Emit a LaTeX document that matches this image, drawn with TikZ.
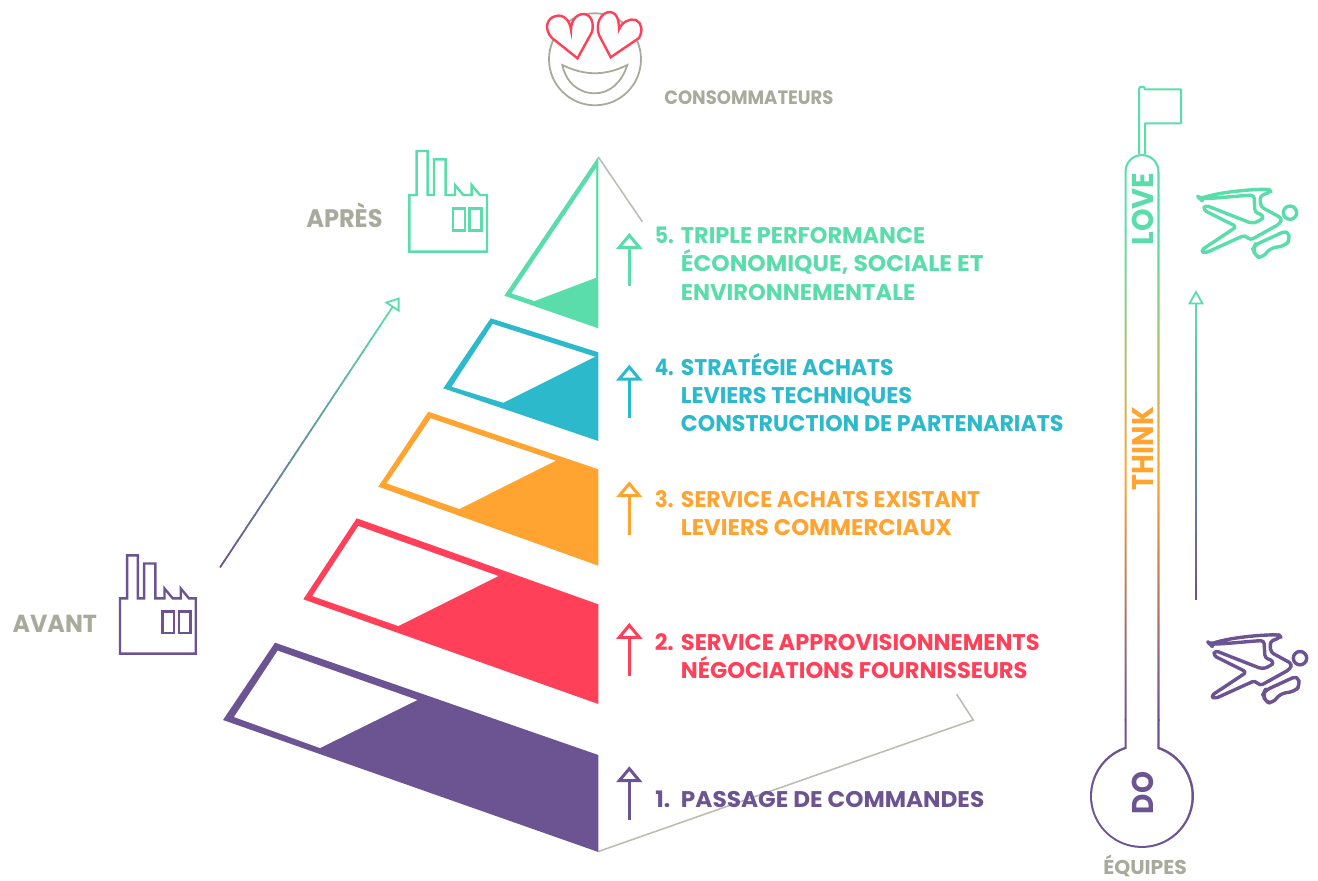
\documentclass[tikz,border=0pt]{standalone}
\usepackage{fontspec}
\usepackage{graphicx}
\usetikzlibrary{calc}
\newfontfamily\lab{Poppins}
\definecolor{pu}{HTML}{6C5392}
\definecolor{re}{HTML}{FF4058}
\definecolor{or}{HTML}{FFA431}
\definecolor{te}{HTML}{2CB9CB}
\definecolor{gr}{HTML}{5ADDAA}
\definecolor{gy}{HTML}{A8AA9C}
\definecolor{gl}{HTML}{BDBDB5}
\newlength\pxu \setlength\pxu{0.75pt}
\newcommand\fitl[2]{\resizebox{#1\pxu}{\height}{#2}}
\newcommand\layer[9]{%
 \fill[#1] #2 -- #3 -- #4 -- #5 -- cycle;
 \fill[white] #6 -- #7 -- #8 -- #9 -- cycle;}
\newcommand\uparr[3]{% x, apex y, colour; shaft 54 below the apex
 \draw[#3,line width=3.4\pxu] (#1,#2+15) -- (#1,#2+54);
 \draw[#3,line width=3\pxu,fill=white,line join=miter] (#1,#2+3) -- (#1+10,#2+15) -- (#1-10,#2+15) -- cycle;}
\newcommand\factory[4]{% x,y,scale,colour
 \begin{scope}[shift={(#1,#2)},scale=#3/3,draw=#4,line width=2.4\pxu,line join=miter]
 \draw (0,0) -- (22,0) -- (22,-132) -- (55,-132) -- (55,0) -- (74,0) -- (74,-107) -- (109,-107) -- (109,0) -- (137,0) -- (137,-30) -- (162,0) -- (187,0) -- (187,-30) -- (212,0) -- (233,0) -- (233,170) -- (0,170) -- cycle;
 \draw (131,40) rectangle (167,107);
 \draw (181,40) rectangle (217,107);
 \end{scope}}
\newcommand\runner[3]{% x,y,colour
 \begin{scope}[shift={(#1,#2)},scale=1/3,draw=#3,line width=3.4\pxu,line join=round]
 \draw[rounded corners=2.5pt] (390,386) .. controls (450,366) and (540,358) .. (597,358) -- (603,365) -- (570,378) -- (572,410) -- (636,445) -- (630,461) -- (540,511) -- (525,495) -- (404,550) -- (393,541) -- (500,470) -- (400,420) -- (405,405) -- (545,460) .. controls (565,455) and (578,445) .. (580,435) -- (555,428) -- (552,375) .. controls (500,378) and (440,385) .. cycle;
 \draw[rounded corners=4pt] (555,525) -- (653,480) -- (660,510) -- (645,527) -- (600,535) -- (578,563) -- (555,560) -- (550,535) -- cycle;
 \draw (660,428) circle[radius=15pt];
 \end{scope}}
\begin{document}
\begin{tikzpicture}[x=0.75pt,y=-0.75pt,
 lbl/.style={inner sep=0pt,anchor=base west,font=\lab\bfseries\fontsize{17}{20}\selectfont},
 cap/.style={inner sep=0pt,anchor=base west,text=gy,font=\lab\bfseries\fontsize{#1}{20}\selectfont},
 vert/.style={inner sep=0pt,anchor=base,rotate=90,font=\lab\bfseries\fontsize{22.5}{24}\selectfont},
 greyline/.style={draw=gl,line width=1.6\pxu}]
\useasboundingbox (0,0) rectangle (1318,881);
% grey connectors
\coordinate (gA) at (598.3,157); \coordinate (gB) at (642.3,221.7);
\coordinate (gC) at (598.3,851.5); \coordinate (gD) at (973.3,720); \coordinate (gE) at (956.7,694.3);
\draw[greyline] (gA) -- (gB);
\draw[greyline] (gC) -- (gD) -- (gE);
% pyramid
\layer{pu}{(275,642.7)}{(223,720)}{(598.3,852)}{(598.3,755)}{(277.7,650.7)}{(234,717)}{(320,748)}{(417.3,700)}
\layer{re}{(356.7,518.3)}{(303.3,599.3)}{(598.3,704)}{(598.3,604.3)}{(358.3,526)}{(312.3,596)}{(398.3,626)}{(498.3,576)}
\layer{or}{(428.3,411.7)}{(378.3,486.7)}{(598.3,565.7)}{(598.3,469.3)}{(430.7,418.3)}{(386.7,483.3)}{(459.3,509)}{(555.7,460.7)}
\layer{te}{(490.7,318.3)}{(443.3,388.3)}{(598.3,441)}{(598.3,352.3)}{(492.7,324)}{(451.7,386.7)}{(503.3,402.7)}{(595,356.7)}
\fill[gr] (598.3,156.7) -- (504.3,295.7) -- (598.3,328.3) -- cycle;
\fill[white] (596,168.3) -- (511.7,293.3) -- (534.3,301) -- (596,277.7) -- cycle;
% level arrows
\uparr{629.3}{232.3}{gr}
\uparr{629.3}{364}{te}
\uparr{629.3}{480.7}{or}
\uparr{629.3}{622.3}{re}
\uparr{629.3}{765.7}{pu}
% level texts
\node[lbl,text=gr] (n5) at (654.5,243.3) {\fitl{19}{5.}};
\node[lbl,text=gr] (t5a) at (680.7,243.3) {\fitl{244.3}{TRIPLE PERFORMANCE}};
\node[lbl,text=gr] (t5b) at (680.7,271.7) {\fitl{302.6}{ÉCONOMIQUE, SOCIALE ET}};
\node[lbl,text=gr] (t5c) at (680.7,300.7) {\fitl{234.3}{ENVIRONNEMENTALE}};
\node[lbl,text=te] (n4) at (654.5,375) {\fitl{19}{4.}};
\node[lbl,text=te] (t4a) at (680.7,375) {\fitl{212.6}{STRATÉGIE ACHATS}};
\node[lbl,text=te] (t4b) at (680.7,403) {\fitl{231}{LEVIERS TECHNIQUES}};
\node[lbl,text=te] (t4c) at (680.7,431.7) {\fitl{382.6}{CONSTRUCTION DE PARTENARIATS}};
\node[lbl,text=or] (n3) at (654.5,507.3) {\fitl{19}{3.}};
\node[lbl,text=or] (t3a) at (680.7,507.3) {\fitl{299.3}{SERVICE ACHATS EXISTANT}};
\node[lbl,text=or] (t3b) at (680.7,535.7) {\fitl{271}{LEVIERS COMMERCIAUX}};
\node[lbl,text=re] (n2) at (654.5,650) {\fitl{19}{2.}};
\node[lbl,text=re] (t2a) at (680.7,650) {\fitl{358.6}{SERVICE APPROVISIONNEMENTS}};
\node[lbl,text=re] (t2b) at (680.7,678.3) {\fitl{346.6}{NÉGOCIATIONS FOURNISSEURS}};
\node[lbl,text=pu] (n1) at (655,807.3) {\fitl{15}{1.}};
\node[lbl,text=pu] (t1a) at (680.7,807.3) {\fitl{303.3}{PASSAGE DE COMMANDES}};
% captions
\node[cap=14.5] (cons) at (664,104.3) {\fitl{169.3}{CONSOMMATEURS}};
\node[cap=19] (apres) at (306,227.7) {\fitl{76.3}{APRÈS}};
\node[cap=18.5] (avant) at (12.3,632.7) {\fitl{84.4}{AVANT}};
\node[cap=15] (equipes) at (1103,874) {\fitl{83.7}{ÉQUIPES}};
% factories
\factory{409.3}{195}{1}{gr}
\factory{120}{598.3}{0.975}{pu}
% diagonal gradient arrow
\coordinate (dA) at (220,567.5); \coordinate (dB) at (392.7,306.7);
\foreach \i in {0,...,39}{
 \pgfmathsetmacro\ta{\i/40}\pgfmathsetmacro\tb{(\i+1.1)/40}\pgfmathsetmacro\pc{100*\i/39}
 \draw[gr!\pc!pu,line width=1.8\pxu] ($(dA)!\ta!(dB)$) -- ($(dA)!\tb!(dB)$);
}
\draw[gr,line width=1.8\pxu,fill=white,line join=miter] (398.6,298.6) -- (386.5,302.6) -- (398.6,310.6) -- cycle;
% vertical gradient arrow
\coordinate (vA) at (1196,599.5); \coordinate (vB) at (1196,303);
\foreach \i in {0,...,39}{
 \pgfmathsetmacro\ta{\i/40}\pgfmathsetmacro\tb{(\i+1.1)/40}\pgfmathsetmacro\pc{100*\i/39}
 \draw[gr!\pc!pu,line width=1.8\pxu] ($(vA)!\ta!(vB)$) -- ($(vA)!\tb!(vB)$);
}
\draw[gr,line width=1.8\pxu,fill=white,line join=miter] (1196,292) -- (1202.5,303.5) -- (1189.5,303.5) -- cycle;
% thermometer
\begin{scope}
 \clip (1124.5,747) -- (1124.5,171.5) arc[start angle=180,end angle=0,radius=17.5\pxu] -- (1159.5,747) arc[start angle=70.3,end angle=-250.3,radius=52\pxu] -- cycle;
 \fill[gr] (1080,140) rectangle (1200,231);
 \fill[pu] (1080,719) rectangle (1200,860);
 \shade[top color=gr,bottom color=pu,middle color=or] (1080,230) rectangle (1200,720);
 \fill[white] (1126.7,749) -- (1126.7,171.5) arc[start angle=180,end angle=0,radius=15.3\pxu] -- (1157.3,749) arc[start angle=71.8,end angle=-251.8,radius=49.7\pxu] -- cycle;
\end{scope}
\draw[gr,line width=2\pxu,line join=round] (1139,154) -- (1139,89) -- (1140,87) -- (1144,87) -- (1145,89.5) -- (1181,89.5) -- (1181,123.3) -- (1145,123.3) -- (1145,154);
\node[vert,text=gr] (love) at (1153.3,209.3) {\fitl{72.7}{LOVE}};
\node[vert,text=or] (think) at (1153.8,448.5) {\fitl{83}{THINK}};
\node[vert,text=pu] (do) at (1153.3,793) {\fitl{42.3}{DO}};
% runners
\runner{1070}{70}{gr}
\runner{1080}{515.5}{pu}
% smiley
\draw[gy,line width=1.8\pxu] (595,59.3) circle[radius=46\pxu];
\draw[gy,line width=1.8\pxu,line join=miter] (562.3,65) .. controls (585,76) and (605,76) .. (627.3,65) .. controls (622,82) and (610,93.3) .. (595,93.3) .. controls (578,93.3) and (566,82) .. cycle;
\draw[re,line width=2.4\pxu,fill=white,line join=miter] (577.5,58.3) -- (552,38) .. controls (544,30) and (546,18) .. (556,16) .. controls (563,14) and (570,20) .. (571,30) .. controls (571,22) and (575,14) .. (584,14) .. controls (592,15) and (594,24) .. (592,32) -- cycle;
\draw[re,line width=2.4\pxu,fill=white,line join=miter] (610.7,57.3) -- (599,35) .. controls (595,24) and (601,12) .. (610,12) .. controls (618,13) and (619,22) .. (619,29.3) .. controls (622,22) and (630,18) .. (636,20) .. controls (642,23) and (643,31) .. (639,38) -- cycle;
\end{tikzpicture}
\end{document}
